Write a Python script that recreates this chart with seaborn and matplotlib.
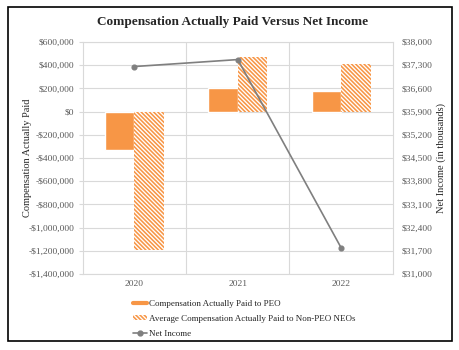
import matplotlib
matplotlib.use("Agg")
import matplotlib.pyplot as plt
from matplotlib.lines import Line2D
from matplotlib.patches import Patch, Rectangle
from matplotlib.ticker import FuncFormatter, MultipleLocator, FixedLocator
import pandas as pd
import seaborn as sns

# values
years = ["2020", "2021", "2022"]
peo_cap = [-330000, 206000, 180000]
non_peo_cap = [-1190000, 470000, 411000]
net_income = [37260, 37470, 31790]  # in thousands
right_ticks = list(range(31000, 38001, 700))

peo_label = "Compensation Actually Paid to PEO"
non_peo_label = "Average Compensation Actually Paid to Non-PEO NEOs"
ni_label = "Net Income"

ORANGE = "#F79646"
GREY_LINE = "#7F7F7F"
GRID = "#D9D9D9"
TICK_TXT = "#595959"
HATCH = "\\" * 8


def money(v, _pos=None):
    s = f"${abs(v):,.0f}"
    return "-" + s if v < 0 else s


def main() -> None:
    df = pd.DataFrame({
        "year": years * 2,
        "value": peo_cap + non_peo_cap,
        "series": [peo_label] * len(years) + [non_peo_label] * len(years),
    })

    sns.set_style("white")
    plt.rcParams["font.family"] = ["Liberation Serif", "DejaVu Serif"]
    plt.rcParams["hatch.linewidth"] = 1.15

    fig, ax = plt.subplots(figsize=(4.6, 3.5), dpi=100)
    fig.subplots_adjust(left=0.180, right=0.854, top=0.88, bottom=0.217)

    sns.barplot(
        data=df, x="year", y="value", hue="series",
        palette=[ORANGE, ORANGE], width=0.57, gap=0, saturation=1,
        legend=False, ax=ax, zorder=3,
    )
    for bar in ax.containers[1]:
        bar.set_facecolor("white")
        bar.set_edgecolor(ORANGE)
        bar.set_hatch(HATCH)
        bar.set_linewidth(0)

    ax.set_xlim(-0.5, 2.5)
    ax.set_ylim(-1400000, 600000)
    ax.yaxis.set_major_locator(MultipleLocator(200000))
    ax.yaxis.set_major_formatter(FuncFormatter(money))
    ax.xaxis.set_minor_locator(FixedLocator([0.5, 1.5]))
    ax.grid(axis="y", which="major", color=GRID, lw=0.8, zorder=0)
    ax.grid(axis="x", which="minor", color=GRID, lw=0.8, zorder=0)
    ax.set_axisbelow(True)
    for sp in ax.spines.values():
        sp.set_color(GRID)
        sp.set_linewidth(0.8)
    ax.tick_params(axis="y", which="major", length=3, color=GRID, labelsize=6.8,
                   labelcolor=TICK_TXT, pad=3)
    ax.tick_params(axis="x", which="both", length=0, labelsize=6.8,
                   labelcolor=TICK_TXT, pad=4)
    ax.set_xlabel("")
    ax.set_ylabel("Compensation Actually Paid", fontsize=7.5, color="#262626")
    ax.yaxis.set_label_coords(-0.165, 0.5)

    ax2 = ax.twinx()
    sns.pointplot(
        x=years, y=net_income, ax=ax2, color=GREY_LINE,
        markers="o", markersize=3.5, linewidth=1.2,
    )
    ax2.set_xlim(-0.5, 2.5)
    ax2.set_ylim(31000, 38000)
    ax2.yaxis.set_major_locator(FixedLocator(right_ticks))
    ax2.yaxis.set_major_formatter(FuncFormatter(money))
    for sp in ax2.spines.values():
        sp.set_visible(False)
    ax2.tick_params(axis="y", length=0, labelsize=6.8, labelcolor=TICK_TXT, pad=6)
    ax2.set_ylabel("Net Income (in thousands)", fontsize=7.5, color="#262626")
    ax2.yaxis.set_label_coords(1.139, 0.5)

    fig.text(0.506, 0.937, "Compensation Actually Paid Versus Net Income",
             ha="center", va="center", fontsize=9.5, fontweight="bold")

    handles = [
        Line2D([0], [0], color=ORANGE, lw=3),
        Patch(facecolor="white", edgecolor=ORANGE, hatch=HATCH, lw=0),
        Line2D([0], [0], color=GREY_LINE, lw=1.2, marker="o", markersize=3.5),
    ]
    fig.legend(
        handles, [peo_label, non_peo_label, ni_label],
        loc="upper left", bbox_to_anchor=(133 / 460, 1 - 300 / 350),
        frameon=False, fontsize=6.5, handlelength=1.6, handleheight=0.5,
        handletextpad=0.2, labelspacing=0.75, borderaxespad=0, borderpad=0,
    )

    fig.add_artist(Rectangle((8 / 460, 1 - 341 / 350), 444 / 460, 334 / 350,
                             transform=fig.transFigure, fill=False,
                             edgecolor="black", lw=1.2))

    fig.savefig("out.png", dpi=100)
    plt.close(fig)


if __name__ == "__main__":
    main()
